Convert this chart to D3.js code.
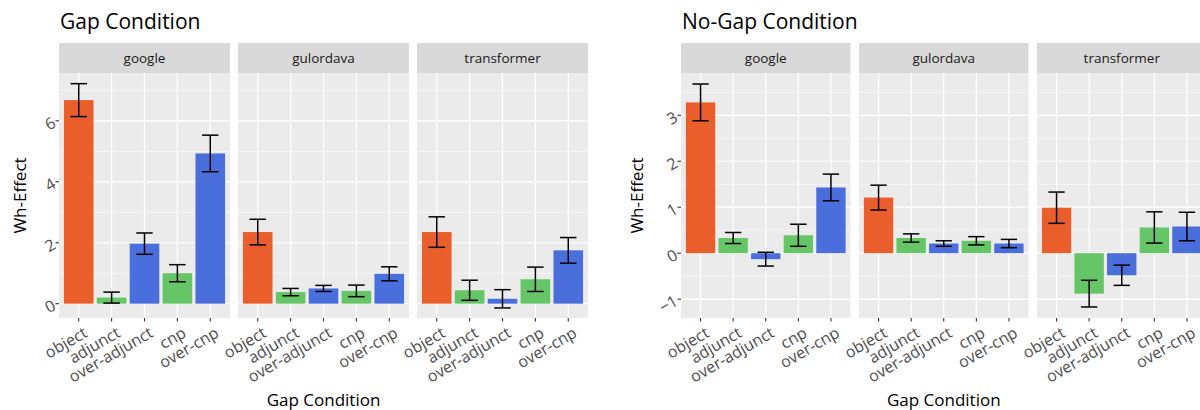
<!DOCTYPE html>
<html><head><meta charset="utf-8">
<script src="https://cdn.jsdelivr.net/npm/d3@7/dist/d3.min.js"></script>
<style>body{margin:0;background:#fff}svg{display:block;font-family:"Open Sans",sans-serif}</style>
</head><body><svg id="c" width="1200" height="410"></svg>
<script>
const categories = ["object","adjunct","over-adjunct","cnp","over-cnp"];
const models = ["google","gulordava","transformer"];
const catColors = ["#E95E2A","#66C566","#4A6EDC","#66C566","#4A6EDC"];

// Gap condition
const gapGoogle = [6.68, 0.20, 1.97, 1.00, 4.93];
const gapGoogleErr = [0.54, 0.18, 0.35, 0.28, 0.60];
const gapGulordava = [2.35, 0.38, 0.50, 0.42, 0.98];
const gapGulordavaErr = [0.42, 0.12, 0.10, 0.19, 0.23];
const gapTransformer = [2.35, 0.44, 0.16, 0.80, 1.75];
const gapTransformerErr = [0.50, 0.33, 0.30, 0.40, 0.42];

// No-gap condition
const noGapGoogle = [3.28, 0.33, -0.13, 0.39, 1.43];
const noGapGoogleErr = [0.40, 0.12, 0.15, 0.24, 0.29];
const noGapGulordava = [1.21, 0.33, 0.21, 0.27, 0.21];
const noGapGulordavaErr = [0.27, 0.09, 0.06, 0.09, 0.09];
const noGapTransformer = [0.99, -0.88, -0.48, 0.56, 0.58];
const noGapTransformerErr = [0.34, 0.29, 0.22, 0.34, 0.31];

const gapTicks = [0, 2, 4, 6];
const gapMinor = [1, 3, 5, 7];
const noGapTicks = [-1, 0, 1, 2, 3];
const noGapMinor = [-0.5, 0.5, 1.5, 2.5, 3.5];

const svg = d3.select("#c");
const PT = 73, PB = 318, ST = 43;

function drawChart(cfg) {
  const g = svg.append("g");
  const y = d3.scaleLinear().domain(cfg.yDomain).range([PB, PT]);
  g.append("text").attr("x", cfg.titleX).attr("y", 29).attr("font-size", 21).attr("fill", "#000").text(cfg.title);

  cfg.panels.forEach((p, pi) => {
    const left = cfg.panelLefts[pi], w = cfg.panelWidth;
    const x = d3.scalePoint().domain(categories).range([left, left + w]).padding(0.6);
    const step = x.step();
    g.append("rect").attr("x", left).attr("y", ST).attr("width", w).attr("height", PT - ST).attr("fill", "#D9D9D9");
    g.append("text").attr("x", left + w / 2).attr("y", (ST + PT) / 2).attr("dy", "0.35em")
      .attr("text-anchor", "middle").attr("font-size", 13.5).attr("fill", "#1A1A1A").text(models[pi]);
    g.append("rect").attr("x", left).attr("y", PT).attr("width", w).attr("height", PB - PT).attr("fill", "#EBEBEB");
    cfg.minor.forEach(v => {
      g.append("line").attr("x1", left).attr("x2", left + w).attr("y1", y(v)).attr("y2", y(v))
        .attr("stroke", "#fff").attr("stroke-width", 0.6);
    });
    cfg.ticks.forEach(v => {
      g.append("line").attr("x1", left).attr("x2", left + w).attr("y1", y(v)).attr("y2", y(v))
        .attr("stroke", "#fff").attr("stroke-width", 1.2);
    });
    categories.forEach(c => {
      g.append("line").attr("x1", x(c)).attr("x2", x(c)).attr("y1", PT).attr("y2", PB)
        .attr("stroke", "#fff").attr("stroke-width", 1.2);
    });
    const vals = p.vals, errs = p.errs;
    g.selectAll(null).data(categories).enter().append("rect")
      .attr("x", c => x(c) - step * 0.45).attr("width", step * 0.9)
      .attr("y", (c, i) => y(Math.max(0, vals[i])))
      .attr("height", (c, i) => Math.abs(y(vals[i]) - y(0)))
      .attr("fill", (c, i) => catColors[i]);
    categories.forEach((c, i) => {
      const cx = x(c), hw = step * 0.25;
      const top = y(vals[i] + errs[i]), bot = y(vals[i] - errs[i]);
      const eb = g.append("g").attr("stroke", "#000").attr("stroke-width", 1.5).attr("fill", "none");
      eb.append("line").attr("x1", cx).attr("x2", cx).attr("y1", top).attr("y2", bot);
      eb.append("line").attr("x1", cx - hw).attr("x2", cx + hw).attr("y1", top).attr("y2", top);
      eb.append("line").attr("x1", cx - hw).attr("x2", cx + hw).attr("y1", bot).attr("y2", bot);
    });
    categories.forEach(c => {
      g.append("line").attr("x1", x(c)).attr("x2", x(c)).attr("y1", PB).attr("y2", PB + 3.5)
        .attr("stroke", "#333").attr("stroke-width", 1.1);
      g.append("text").attr("transform", `translate(${x(c) + 4},${PB + 8}) rotate(-30)`)
        .attr("text-anchor", "end").attr("dy", "0.72em").attr("font-size", 16).attr("fill", "#4D4D4D").text(c);
    });
  });
  const left0 = cfg.panelLefts[0];
  cfg.ticks.forEach(v => {
    g.append("line").attr("x1", left0 - 3.5).attr("x2", left0).attr("y1", y(v)).attr("y2", y(v))
      .attr("stroke", "#333").attr("stroke-width", 1.1);
    g.append("text").attr("transform", `translate(${left0 - 5},${y(v)}) rotate(-30)`)
      .attr("text-anchor", "end").attr("dy", "0.38em").attr("font-size", 16).attr("fill", "#4D4D4D").text(d3.format("d")(v));
  });
  g.append("text").attr("transform", `translate(${cfg.yTitleX},${(PT + PB) / 2}) rotate(-90)`)
    .attr("text-anchor", "middle").attr("font-size", 17).attr("fill", "#000").text("Wh-Effect");
  const lastLeft = cfg.panelLefts[2] + cfg.panelWidth;
  g.append("text").attr("x", (left0 + lastLeft) / 2).attr("y", 406).attr("text-anchor", "middle")
    .attr("font-size", 17).attr("fill", "#000").text("Gap Condition");
}

drawChart({
  title: "Gap Condition", titleX: 60, yTitleX: 26,
  yDomain: [-0.47, 7.57], ticks: gapTicks, minor: gapMinor,
  panelLefts: [59, 238, 417], panelWidth: 171,
  panels: [
    {vals: gapGoogle, errs: gapGoogleErr},
    {vals: gapGulordava, errs: gapGulordavaErr},
    {vals: gapTransformer, errs: gapTransformerErr}
  ]
});
drawChart({
  title: "No-Gap Condition", titleX: 682, yTitleX: 643,
  yDomain: [-1.41, 3.92], ticks: noGapTicks, minor: noGapMinor,
  panelLefts: [681, 859, 1037], panelWidth: 169.5,
  panels: [
    {vals: noGapGoogle, errs: noGapGoogleErr},
    {vals: noGapGulordava, errs: noGapGulordavaErr},
    {vals: noGapTransformer, errs: noGapTransformerErr}
  ]
});
</script></body></html>
